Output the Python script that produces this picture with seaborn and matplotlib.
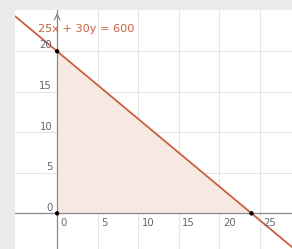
import numpy as np
import pandas as pd
import matplotlib
matplotlib.use("Agg")
import matplotlib.pyplot as plt
import seaborn as sns

# constraint 25x + 30y = 600
coef_x = 25
coef_y = 30
rhs = 600
x_ticks = [0, 5, 10, 15, 20, 25]
y_ticks = [0, 5, 10, 15, 20]
corner_x = [0, 0, 24]
corner_y = [0, 20, 0]
label = "25x + 30y = 600"

sns.set_style("white")
line_col = "#c9603f"
fill_col = "#f8e8e2"

fig = plt.figure(figsize=(2.92, 2.49), dpi=100)
fig.patch.set_facecolor("#ebebeb")
ax = fig.add_axes([0.0514, 0.0, 0.9486, 0.96])
ax.set_facecolor("white")

xlim = (-5.2, 29.0)
ylim = (-4.4, 25.1)
ax.set_xlim(*xlim)
ax.set_ylim(*ylim)

# grid
for v in x_ticks:
    ax.axvline(v, color="#e4e4e4", lw=0.8, zorder=0)
for v in y_ticks:
    ax.axhline(v, color="#e4e4e4", lw=0.8, zorder=0)
ax.axhline(0, color="#8a8a8a", lw=0.9, zorder=1)
ax.axvline(0, color="#8a8a8a", lw=0.9, zorder=1)
# small arrow head on the y axis
ax.annotate("", xy=(0, ylim[1]), xytext=(0, ylim[1] - 1.2),
            arrowprops=dict(arrowstyle="->", color="#8a8a8a", lw=0.9))

# feasible region
fx = np.array([0, rhs / coef_x])
ax.fill_between(fx, 0, (rhs - coef_x * fx) / coef_y, color=fill_col, lw=0, zorder=0.5)

# line
lx = np.array([xlim[0], xlim[1]])
line_df = pd.DataFrame({"x": lx, "y": (rhs - coef_x * lx) / coef_y})
sns.lineplot(data=line_df, x="x", y="y", color=line_col, lw=1.3, ax=ax, zorder=3)

sns.scatterplot(x=corner_x, y=corner_y, color="black", s=10, ax=ax, zorder=4, edgecolor="none")

ax.text(-2.4, 22.8, label, color=line_col, fontsize=8.1, va="center", ha="left")

# tick labels
for v in x_ticks:
    ax.text(v + 0.45, -0.6, str(v), color="#666666", fontsize=7.3, ha="left", va="top")
for v in y_ticks:
    ax.text(-0.6, v + 0.1, str(v), color="#666666", fontsize=7.3, ha="right", va="bottom")

ax.set_xticks([])
ax.set_yticks([])
ax.set_xlabel("")
ax.set_ylabel("")
for s in ax.spines.values():
    s.set_visible(False)

fig.savefig("out.png", dpi=100, facecolor=fig.get_facecolor())
